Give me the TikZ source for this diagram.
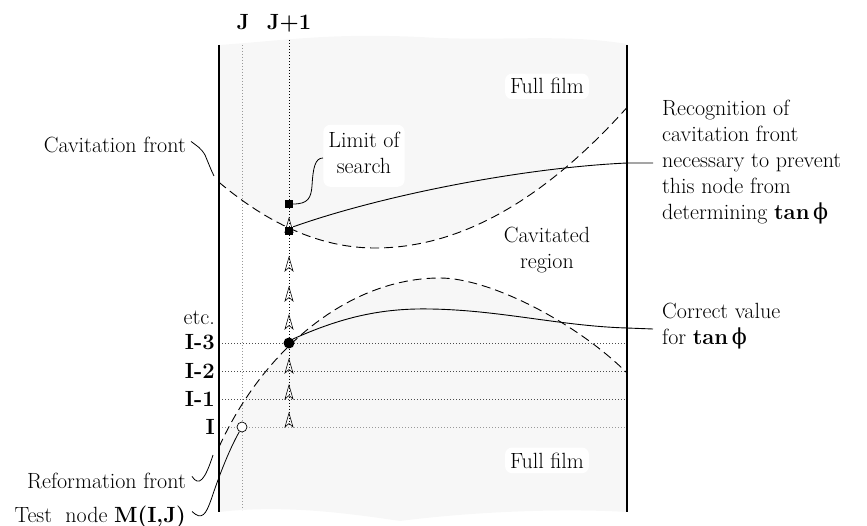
\documentclass[tikz,border=0pt]{standalone}
\usepackage{fontspec}
\newfontfamily\grk{DejaVu Serif}
\usetikzlibrary{arrows.meta}
\definecolor{filmgray}{RGB}{247,247,247}
\newcommand{\tanphi}{\textbf{tan}\,{\grk ϕ}}
\newcommand{\upperfront}{plot[domain=219:375, samples=40] (\x,{248-0.0027*(\x-375)*(\x-375)}) -- plot[domain=375:627, samples=50] (\x,{248-0.00222*(\x-375)*(\x-375)})}
\begin{document}
\begin{tikzpicture}[x=1pt,y=-1pt,
  every node/.style={font=\fontsize{22}{26}\selectfont, inner sep=0pt},
  boldlbl/.style={font=\fontsize{22}{26}\selectfont\bfseries},
  wall/.style={line width=2.2pt},
  front/.style={line width=0.9pt, dash pattern=on 9pt off 5pt},
  curvesolid/.style={line width=0.9pt},
  lead/.style={line width=0.8pt},
  rowline/.style={line width=0.9pt, black!70, dash pattern=on 1.3pt off 1.7pt},
  faintline/.style={line width=0.8pt, black!40, dash pattern=on 1pt off 2pt},
  jline/.style={line width=0.9pt, black, dash pattern=on 1.3pt off 1.7pt},
  blob/.style={fill=white, rounded corners=7pt, inner sep=5pt},
  sqmark/.style={fill=black, minimum size=8pt, inner sep=0pt},
  upar/.style={line width=0.6pt}
]
\useasboundingbox (0,0) rectangle (867,526);

% film background (grey) with wavy top and bottom edges
\fill[filmgray] (219,45) .. controls (290,40) and (330,33) .. (420,37)
  .. controls (500,42) and (560,33) .. (627,44) -- (627,512)
  .. controls (560,508) and (470,512) .. (400,521)
  .. controls (340,512) and (280,505) .. (219,512) -- cycle;

% cavitated region (white)
\fill[white] \upperfront -- (627,373) .. controls (577,323) and (490,278) .. (440,278)
  .. controls (350,278) and (264,348) .. (219,447) -- cycle;

% grid lines
\draw[faintline] (242,45) -- (242,510);
\draw[faintline] (219,427) -- (627,427);
\foreach \yy in {343,371,399} \draw[rowline] (219,\yy) -- (627,\yy);
\draw[jline] (289,40) -- (289,425);

% search arrows
\foreach \t in {218,257,287,315,359,385,413}
  \draw[upar] (289,\t) -- (293,\t+14) -- (289,\t+10.5) -- (285,\t+14) -- cycle;

% fronts (dashed)
\draw[front] \upperfront;
\draw[front] (219,447) .. controls (264,348) and (350,278) .. (440,278)
  .. controls (490,278) and (577,323) .. (627,373);

% walls
\draw[wall] (219,45) -- (219,512);
\draw[wall] (627,45) -- (627,512);

% markers
\node[sqmark] (sq1) at (289,204) {};
\node[sqmark] (sq2) at (289,231) {};
\node[circle, fill=black, minimum size=11pt] (dot) at (289,343) {};
\node[circle, draw, fill=white, minimum size=10pt, line width=0.7pt] (tn) at (242,427) {};

% column labels
\node[anchor=base, boldlbl] (lj) at (243,30) {J};
\node[anchor=base, boldlbl] (lj1) at (289,30) {J+1};

% row labels
\node[anchor=base east] (letc) at (215,325) {etc.};
\node[anchor=base east, boldlbl] (li3) at (215,350) {I-3};
\node[anchor=base east, boldlbl] (li2) at (215,378) {I-2};
\node[anchor=base east, boldlbl] (li1) at (215,406) {I-1};
\node[anchor=base east, boldlbl] (li0) at (215,434) {I};

% region labels
\node[blob, anchor=base] (ff1) at (547,94) {Full film};
\node[blob, anchor=base] (ff2) at (547,468) {Full film};
\node[anchor=base] (cav) at (547,243) {\begin{tabular}[t]{@{}c@{}}Cavitated\\region\end{tabular}};
\node[blob, anchor=base] (lim) at (364,148) {\begin{tabular}[t]{@{}c@{}}Limit of\\search\end{tabular}};

% left labels
\node[anchor=base east] (cflbl) at (186,153) {Cavitation front};
\node[anchor=base east] (rflbl) at (186,488) {Reformation front};
\node[anchor=base east] (tnlbl) at (186,522) {Test\ \ node \textbf{M(I,J)}};

% right labels
\node[anchor=base west] (rec) at (662,116) {\begin{tabular}[t]{@{}l@{}}Recognition of\\cavitation front\\necessary to prevent\\this node from\\determining \tanphi\end{tabular}};
\node[anchor=base west] (corr) at (662,319) {\begin{tabular}[t]{@{}l@{}}Correct value\\for \tanphi\end{tabular}};

% leader end points
\coordinate (cfend) at (214,176);
\coordinate (rfend) at (213,455);
\coordinate (limend) at (323,158);
\coordinate (recend) at (653,163);
\coordinate (corrend) at (653,329);

% solid curves to right labels
\draw[curvesolid] (sq2.north east) .. controls (380,196) and (520,168) .. (627,163) -- (recend);
\draw[curvesolid] (dot.north east) .. controls (340,318) and (380,308) .. (430,309)
  .. controls (500,310) and (560,326) .. (627,328) -- (corrend);

% leaders
\draw[lead] (cflbl.east) ++(5,-4) .. controls (197,146) and (201,148) .. (205,155) .. controls (208,162) and (211,170) .. (cfend);
\draw[lead] (rflbl.east) ++(6,-4) .. controls (199,487) and (205,480) .. (rfend);
\draw[lead] (tnlbl.east) ++(6,-5) .. controls (202,521) and (206,514) .. (211,500) .. controls (219,476) and (229,450) .. (tn);
\draw[lead] (sq1.east) .. controls (308,204) and (311,198) .. (312,186) .. controls (313,168) and (315,158) .. (limend);
\end{tikzpicture}
\end{document}
